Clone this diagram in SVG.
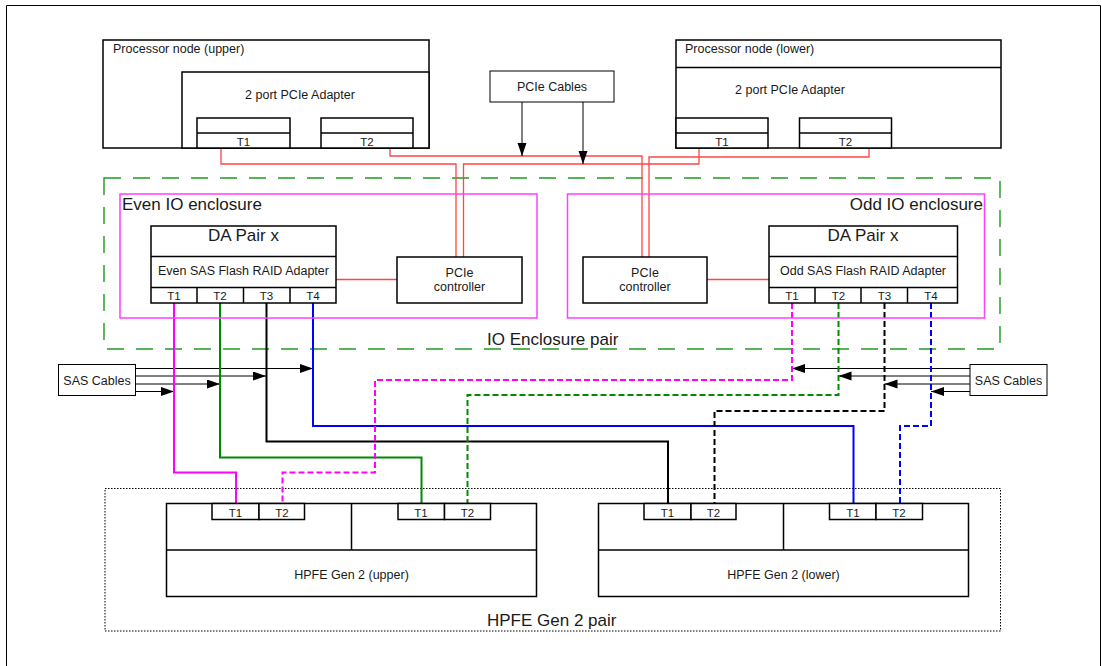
<svg xmlns="http://www.w3.org/2000/svg" width="1102" height="666" viewBox="0 0 1102 666">
<style>
text{font-family:"Liberation Sans",Arial,sans-serif;fill:#1a1a1a}
.s{font-size:12.5px}
.t{font-size:11.5px}
.b{font-size:17px}
.m{text-anchor:middle}
.box{fill:#fff;stroke:#000;stroke-width:1.5}
.ln{fill:none;stroke:#000;stroke-width:1.5}
.red{fill:none;stroke:#ff4545;stroke-width:1.3}
.mag{fill:none;stroke:#ff40ff;stroke-width:1.5}
.w{fill:none;stroke-width:2}
.d{stroke-dasharray:6 3}
.ar{fill:none;stroke:#000;stroke-width:1}
</style>
<defs>
<marker id="ah" markerUnits="userSpaceOnUse" markerWidth="14" markerHeight="10" refX="13" refY="4.5" orient="auto">
<path d="M0,0 L13,4.5 L0,9 z" fill="#000"/>
</marker>
</defs>
<rect x="0" y="0" width="1102" height="666" fill="#fff"/>
<path d="M6.5,670 V5.5 H1100.5 V670" fill="none" stroke="#000" stroke-width="1"/>

<g id="io-enclosure-pair">
<rect x="104" y="178" width="896" height="171" fill="none" stroke="#1f9a1f" stroke-width="1.4" stroke-dasharray="17 12"/>
<text class="b" x="487" y="345">IO Enclosure pair</text>
</g>
<g id="hpfe-pair">
<rect x="105" y="488.5" width="895.5" height="142.5" fill="none" stroke="#000" stroke-width="1" stroke-dasharray="1.5 1.5"/>
<text class="b" x="487" y="626">HPFE Gen 2 pair</text>
</g>

<g id="connectors">
<!-- PCIe red cables -->
<path class="red" d="M221,148 V164 H456 V257"/>
<path class="red" d="M390,148 V156 H642 V257"/>
<path class="red" d="M699,148 V164 H463.5 V257"/>
<path class="red" d="M869,148 V157 H649 V257"/>
<path class="red" d="M336,279.5 H397"/>
<path class="red" d="M707,279.5 H769"/>
<!-- PCIe cables arrows -->
<path class="ar" d="M522,102 V156" marker-end="url(#ah)"/>
<path class="ar" d="M583,102 V164" marker-end="url(#ah)"/>
<!-- SAS cable arrows left -->
<path class="ar" d="M136,368.5 H313" marker-end="url(#ah)"/>
<path class="ar" d="M136,376 H266" marker-end="url(#ah)"/>
<path class="ar" d="M136,384 H220" marker-end="url(#ah)" stroke="#444"/>
<path class="ar" d="M136,391.5 H174" marker-end="url(#ah)" stroke="#444"/>
<!-- SAS cable arrows right -->
<path class="ar" d="M970,368.5 H792" marker-end="url(#ah)"/>
<path class="ar" d="M970,376 H838.5" marker-end="url(#ah)"/>
<path class="ar" d="M970,384 H884.5" marker-end="url(#ah)" stroke="#444"/>
<path class="ar" d="M970,391.5 H931" marker-end="url(#ah)" stroke="#444"/>
<!-- even solid SAS links -->
<path class="w" stroke="#ff00ff" d="M174,303 V472.5 H236 V503.5"/>
<path class="w" stroke="#008a00" d="M220,303 V457.5 H421.5 V503.5"/>
<path class="w" stroke="#000" d="M266.5,303 V441.5 H668 V503.5"/>
<path class="w" stroke="#0000ff" d="M313,303 V426 H853.5 V503.5"/>
<!-- odd dashed SAS links -->
<path class="w d" stroke="#ff00ff" d="M792,303 V380 H375 V472.5 H282.5 V503.5"/>
<path class="w d" stroke="#008a00" d="M838.5,303 V395 H467.5 V503.5"/>
<path class="w d" stroke="#000" d="M884.5,303 V411 H714.5 V503.5"/>
<path class="w d" stroke="#0000ff" d="M931,303 V426 H900 V503.5"/>
</g>

<g id="processor-upper">
<rect class="box" x="103" y="40" width="326" height="108"/>
<text class="s" x="113" y="53">Processor node (upper)</text>
<rect class="box" x="182" y="72" width="247" height="76"/>
<text class="s m" x="300" y="99">2 port PCIe Adapter</text>
<rect class="box" x="197" y="118" width="93" height="30"/>
<line class="ln" x1="197" y1="133" x2="290" y2="133"/>
<text class="t m" x="243.5" y="146">T1</text>
<rect class="box" x="321" y="118" width="92" height="30"/>
<line class="ln" x1="321" y1="133" x2="413" y2="133"/>
<text class="t m" x="367" y="146">T2</text>
</g>

<g id="processor-lower">
<rect class="box" x="676" y="40" width="325" height="108"/>
<line class="ln" x1="676" y1="67.5" x2="1001" y2="67.5"/>
<text class="s" x="685" y="53">Processor node (lower)</text>
<text class="s m" x="790" y="94">2 port PCIe Adapter</text>
<rect class="box" x="676" y="118" width="92" height="30"/>
<line class="ln" x1="676" y1="133" x2="768" y2="133"/>
<text class="t m" x="722" y="146">T1</text>
<rect class="box" x="799.5" y="118" width="92" height="30"/>
<line class="ln" x1="799.5" y1="133" x2="891.5" y2="133"/>
<text class="t m" x="845.5" y="146">T2</text>
</g>

<g id="pcie-cables">
<rect x="490" y="71" width="124" height="31" fill="#fff" stroke="#000" stroke-width="1"/>
<text class="s m" x="552" y="91">PCIe Cables</text>
</g>

<g id="even-io-enclosure">
<rect class="mag" x="120" y="194" width="417" height="124"/>
<text class="b" x="122" y="210">Even IO enclosure</text>
</g>
<g id="even-da-pair">
<rect class="box" x="151" y="226" width="185" height="77"/>
<line class="ln" x1="151" y1="256.5" x2="336" y2="256.5"/>
<line class="ln" x1="151" y1="287.5" x2="336" y2="287.5"/>
<line class="ln" x1="197" y1="287.5" x2="197" y2="303"/>
<line class="ln" x1="243.5" y1="287.5" x2="243.5" y2="303"/>
<line class="ln" x1="290" y1="287.5" x2="290" y2="303"/>
<text class="b m" x="243.5" y="241">DA Pair x</text>
<text class="s m" x="243.5" y="275">Even SAS Flash RAID Adapter</text>
<text class="t m" x="174" y="300">T1</text>
<text class="t m" x="220" y="300">T2</text>
<text class="t m" x="266.5" y="300">T3</text>
<text class="t m" x="313" y="300">T4</text>
</g>
<g id="even-pcie-controller">
<rect class="box" x="397" y="257" width="125" height="46"/>
<text class="s m" x="459.5" y="277">PCIe</text>
<text class="s m" x="459.5" y="291">controller</text>
</g>

<g id="odd-io-enclosure">
<rect class="mag" x="567.5" y="194" width="417" height="124"/>
<text class="b" x="983" y="210" text-anchor="end">Odd IO enclosure</text>
</g>
<g id="odd-pcie-controller">
<rect class="box" x="583" y="257" width="124" height="46"/>
<text class="s m" x="645" y="277">PCIe</text>
<text class="s m" x="645" y="291">controller</text>
</g>
<g id="odd-da-pair">
<rect class="box" x="769" y="226" width="188.5" height="77"/>
<line class="ln" x1="769" y1="256.5" x2="957.5" y2="256.5"/>
<line class="ln" x1="769" y1="287.5" x2="957.5" y2="287.5"/>
<line class="ln" x1="815" y1="287.5" x2="815" y2="303"/>
<line class="ln" x1="861" y1="287.5" x2="861" y2="303"/>
<line class="ln" x1="907.5" y1="287.5" x2="907.5" y2="303"/>
<text class="b m" x="863" y="241">DA Pair x</text>
<text class="s m" x="863" y="275">Odd SAS Flash RAID Adapter</text>
<text class="t m" x="792" y="300">T1</text>
<text class="t m" x="838.5" y="300">T2</text>
<text class="t m" x="884.5" y="300">T3</text>
<text class="t m" x="931" y="300">T4</text>
</g>

<g id="sas-cables-left">
<rect x="58.5" y="364.5" width="77" height="31" fill="#fff" stroke="#000" stroke-width="1"/>
<text class="s m" x="97" y="384.5">SAS Cables</text>
</g>
<g id="sas-cables-right">
<rect x="970" y="364.5" width="77" height="31" fill="#fff" stroke="#000" stroke-width="1"/>
<text class="s m" x="1008.5" y="384.5">SAS Cables</text>
</g>

<g id="hpfe-upper">
<rect class="box" x="166.5" y="503.5" width="370" height="93"/>
<line class="ln" x1="166.5" y1="550" x2="536.5" y2="550"/>
<line class="ln" x1="351.5" y1="503.5" x2="351.5" y2="550"/>
<rect class="box" x="212" y="503.5" width="47" height="16"/>
<rect class="box" x="259" y="503.5" width="45.5" height="16"/>
<text class="t m" x="235.5" y="516.5">T1</text>
<text class="t m" x="282" y="516.5">T2</text>
<rect class="box" x="398" y="503.5" width="46.5" height="16"/>
<rect class="box" x="444.5" y="503.5" width="46" height="16"/>
<text class="t m" x="421" y="516.5">T1</text>
<text class="t m" x="467.5" y="516.5">T2</text>
<text class="s m" x="351.5" y="578.5">HPFE Gen 2 (upper)</text>
</g>
<g id="hpfe-lower">
<rect class="box" x="598.5" y="503.5" width="370" height="93"/>
<line class="ln" x1="598.5" y1="550" x2="968.5" y2="550"/>
<line class="ln" x1="783.5" y1="503.5" x2="783.5" y2="550"/>
<rect class="box" x="644" y="503.5" width="47" height="16"/>
<rect class="box" x="691" y="503.5" width="45" height="16"/>
<text class="t m" x="667.5" y="516.5">T1</text>
<text class="t m" x="713.5" y="516.5">T2</text>
<rect class="box" x="829.5" y="503.5" width="46.5" height="16"/>
<rect class="box" x="876" y="503.5" width="46.5" height="16"/>
<text class="t m" x="853" y="516.5">T1</text>
<text class="t m" x="899" y="516.5">T2</text>
<text class="s m" x="783.5" y="578.5">HPFE Gen 2 (lower)</text>
</g>
</svg>
